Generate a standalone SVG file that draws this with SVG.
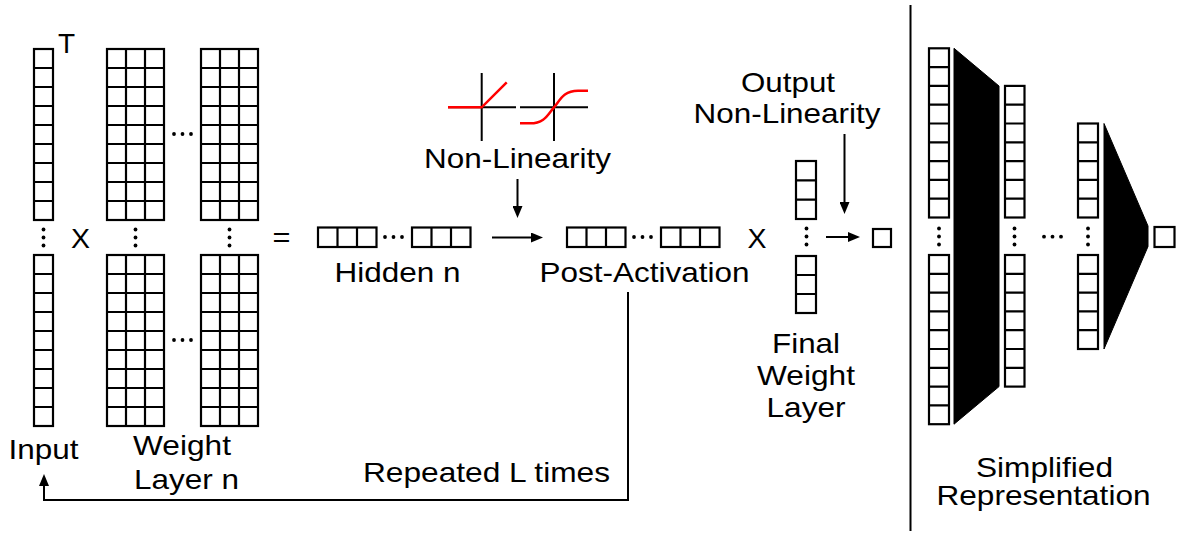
<svg xmlns="http://www.w3.org/2000/svg" width="1177" height="536" viewBox="0 0 1177 536">
<style>
.t{font-family:"Liberation Sans",Arial,Helvetica,sans-serif;font-size:28px;fill:#000;text-anchor:middle}
.c{fill:#fff;stroke:#000;stroke-width:2.2}
.g{fill:none;stroke:#000;stroke-width:2.2}
.ln{fill:none;stroke:#000;stroke-width:2}
.red{fill:none;stroke:#f00;stroke-width:2.5}
.dot{fill:#000}
.blk{fill:#000;stroke:#000;stroke-width:1}
</style>
<defs>
<marker id="ah" viewBox="0 0 12 10" markerWidth="12" markerHeight="10" refX="2" refY="5" orient="auto" markerUnits="userSpaceOnUse">
<path d="M0,0 L12,5 L0,10 z" fill="#000"/>
</marker>
</defs>
<rect width="1177" height="536" fill="#fff"/>

<g id="input">
<rect class="c" x="34" y="49" width="19" height="171"/>
<path class="g" d="M34 68h19M34 87h19M34 106h19M34 125h19M34 144h19M34 163h19M34 182h19M34 201h19"/>
<rect class="c" x="34" y="255" width="19" height="171"/>
<path class="g" d="M34 274h19M34 293h19M34 312h19M34 331h19M34 350h19M34 369h19M34 388h19M34 407h19"/>
<circle class="dot" cx="43.5" cy="229.5" r="1.9"/><circle class="dot" cx="43.5" cy="237.5" r="1.9"/><circle class="dot" cx="43.5" cy="245.5" r="1.9"/>
<text class="t" x="66.5" y="53">T</text>
<text class="t" x="43.5" y="459" textLength="70" lengthAdjust="spacingAndGlyphs">Input</text>
</g>

<text class="t" x="80.5" y="248" textLength="19" lengthAdjust="spacingAndGlyphs">X</text>

<g id="weight-layer">
<rect class="c" x="107" y="49" width="57" height="171"/>
<path class="g" d="M107 68h57M107 87h57M107 106h57M107 125h57M107 144h57M107 163h57M107 182h57M107 201h57M126 49v171M145 49v171"/>
<rect class="c" x="107" y="255" width="57" height="171"/>
<path class="g" d="M107 274h57M107 293h57M107 312h57M107 331h57M107 350h57M107 369h57M107 388h57M107 407h57M126 255v171M145 255v171"/>
<rect class="c" x="201" y="49" width="57" height="171"/>
<path class="g" d="M201 68h57M201 87h57M201 106h57M201 125h57M201 144h57M201 163h57M201 182h57M201 201h57M220 49v171M239 49v171"/>
<rect class="c" x="201" y="255" width="57" height="171"/>
<path class="g" d="M201 274h57M201 293h57M201 312h57M201 331h57M201 350h57M201 369h57M201 388h57M201 407h57M220 255v171M239 255v171"/>
<circle class="dot" cx="174" cy="134" r="1.9"/><circle class="dot" cx="182.5" cy="134" r="1.9"/><circle class="dot" cx="191" cy="134" r="1.9"/>
<circle class="dot" cx="174" cy="340" r="1.9"/><circle class="dot" cx="182.5" cy="340" r="1.9"/><circle class="dot" cx="191" cy="340" r="1.9"/>
<circle class="dot" cx="135.5" cy="229.5" r="1.9"/><circle class="dot" cx="135.5" cy="237.5" r="1.9"/><circle class="dot" cx="135.5" cy="245.5" r="1.9"/>
<circle class="dot" cx="229.5" cy="229.5" r="1.9"/><circle class="dot" cx="229.5" cy="237.5" r="1.9"/><circle class="dot" cx="229.5" cy="245.5" r="1.9"/>
<text class="t" x="182" y="455" textLength="98" lengthAdjust="spacingAndGlyphs">Weight</text>
<text class="t" x="186.5" y="489" textLength="105" lengthAdjust="spacingAndGlyphs">Layer n</text>
</g>

<text class="t" x="281.5" y="247" textLength="18" lengthAdjust="spacingAndGlyphs">=</text>

<g id="hidden">
<rect class="c" x="318" y="227.5" width="58.5" height="19.5"/>
<path class="g" d="M337.5 227.5v19.5M357 227.5v19.5"/>
<rect class="c" x="412" y="227.5" width="58.5" height="19.5"/>
<path class="g" d="M431.5 227.5v19.5M451 227.5v19.5"/>
<circle class="dot" cx="385" cy="237" r="1.9"/><circle class="dot" cx="393.5" cy="237" r="1.9"/><circle class="dot" cx="402" cy="237" r="1.9"/>
<text class="t" x="397.5" y="282" textLength="126" lengthAdjust="spacingAndGlyphs">Hidden n</text>
</g>

<g id="nonlinearity">
<path class="ln" d="M481.7 73v68M448 107.3h68M554 73v68M520 107.3h68"/>
<path class="red" d="M448 107.3H481.7L506.7 82.3"/>
<path class="red" d="M520 123.3H530C545 123.3 548 114 554 107.3C560 100.5 563 90.7 578 90.7H588"/>
<text class="t" x="517.5" y="167.5" textLength="187" lengthAdjust="spacingAndGlyphs">Non-Linearity</text>
</g>

<g id="post-activation">
<rect class="c" x="567" y="227.5" width="58.5" height="19.5"/>
<path class="g" d="M586.5 227.5v19.5M606 227.5v19.5"/>
<rect class="c" x="661" y="227.5" width="58.5" height="19.5"/>
<path class="g" d="M680.5 227.5v19.5M700 227.5v19.5"/>
<circle class="dot" cx="634" cy="237" r="1.9"/><circle class="dot" cx="642.5" cy="237" r="1.9"/><circle class="dot" cx="651" cy="237" r="1.9"/>
<text class="t" x="644.5" y="282" textLength="210" lengthAdjust="spacingAndGlyphs">Post-Activation</text>
</g>

<text class="t" x="757" y="248" textLength="19" lengthAdjust="spacingAndGlyphs">X</text>

<g id="final-weight-layer">
<rect class="c" x="796" y="161" width="20" height="58"/>
<path class="g" d="M796 180.3h20M796 199.6h20"/>
<rect class="c" x="796" y="256" width="20" height="57"/>
<path class="g" d="M796 275h20M796 294h20"/>
<circle class="dot" cx="806.5" cy="228.5" r="1.9"/><circle class="dot" cx="806.5" cy="236.5" r="1.9"/><circle class="dot" cx="806.5" cy="244.5" r="1.9"/>
<text class="t" x="806" y="353" textLength="68" lengthAdjust="spacingAndGlyphs">Final</text>
<text class="t" x="806" y="385" textLength="98" lengthAdjust="spacingAndGlyphs">Weight</text>
<text class="t" x="806" y="417" textLength="79" lengthAdjust="spacingAndGlyphs">Layer</text>
</g>

<g id="output-nonlinearity">
<text class="t" x="788" y="92" textLength="94" lengthAdjust="spacingAndGlyphs">Output</text>
<text class="t" x="787" y="123" textLength="187" lengthAdjust="spacingAndGlyphs">Non-Linearity</text>
</g>

<g id="output">
<rect class="c" x="873" y="229" width="18" height="18"/>
</g>

<g id="connectors">
<line class="ln" x1="492" y1="237.5" x2="533" y2="237.5" marker-end="url(#ah)"/>
<line class="ln" x1="517.5" y1="179" x2="517.5" y2="208" marker-end="url(#ah)"/>
<line class="ln" x1="844.5" y1="134" x2="844.5" y2="204" marker-end="url(#ah)"/>
<line class="ln" x1="826" y1="237" x2="850" y2="237" marker-end="url(#ah)"/>
<path class="ln" d="M628 292V500H44V484" marker-end="url(#ah)"/>
<text class="t" x="486.5" y="482" textLength="247" lengthAdjust="spacingAndGlyphs">Repeated L times</text>
</g>

<line class="ln" x1="910.5" y1="5" x2="910.5" y2="531"/>

<g id="simplified-representation">
<rect class="c" x="929" y="48.3" width="20" height="169.2"/>
<path class="g" d="M929 67.1h20M929 85.9h20M929 104.7h20M929 123.5h20M929 142.3h20M929 161.1h20M929 179.9h20M929 198.7h20"/>
<rect class="c" x="929" y="255" width="20" height="169.2"/>
<path class="g" d="M929 273.8h20M929 292.6h20M929 311.4h20M929 330.2h20M929 349h20M929 367.8h20M929 386.6h20M929 405.4h20"/>
<path class="blk" d="M954 48.3L999 86V386.6L954 424.2Z"/>
<rect class="c" x="1005" y="85.9" width="19.5" height="131.6"/>
<path class="g" d="M1005 104.7h19.5M1005 123.5h19.5M1005 142.3h19.5M1005 161.1h19.5M1005 179.9h19.5M1005 198.7h19.5"/>
<rect class="c" x="1005" y="255" width="19.5" height="131.6"/>
<path class="g" d="M1005 273.8h19.5M1005 292.6h19.5M1005 311.4h19.5M1005 330.2h19.5M1005 349h19.5M1005 367.8h19.5"/>
<rect class="c" x="1078" y="123.5" width="20" height="94"/>
<path class="g" d="M1078 142.3h20M1078 161.1h20M1078 179.9h20M1078 198.7h20"/>
<rect class="c" x="1078" y="255" width="20" height="94"/>
<path class="g" d="M1078 273.8h20M1078 292.6h20M1078 311.4h20M1078 330.2h20"/>
<path class="blk" d="M1104 123.5L1148 226V246.5L1104 349Z"/>
<rect class="c" x="1154.5" y="227" width="20" height="20"/>
<circle class="dot" cx="939" cy="228.5" r="1.9"/><circle class="dot" cx="939" cy="236.5" r="1.9"/><circle class="dot" cx="939" cy="244.5" r="1.9"/>
<circle class="dot" cx="1014.5" cy="228.5" r="1.9"/><circle class="dot" cx="1014.5" cy="236.5" r="1.9"/><circle class="dot" cx="1014.5" cy="244.5" r="1.9"/>
<circle class="dot" cx="1088" cy="228.5" r="1.9"/><circle class="dot" cx="1088" cy="236.5" r="1.9"/><circle class="dot" cx="1088" cy="244.5" r="1.9"/>
<circle class="dot" cx="1044" cy="236.7" r="1.9"/><circle class="dot" cx="1052.5" cy="236.7" r="1.9"/><circle class="dot" cx="1061" cy="236.7" r="1.9"/>
<text class="t" x="1044.5" y="477" textLength="137" lengthAdjust="spacingAndGlyphs">Simplified</text>
<text class="t" x="1043.5" y="505" textLength="214" lengthAdjust="spacingAndGlyphs">Representation</text>
</g>
</svg>
